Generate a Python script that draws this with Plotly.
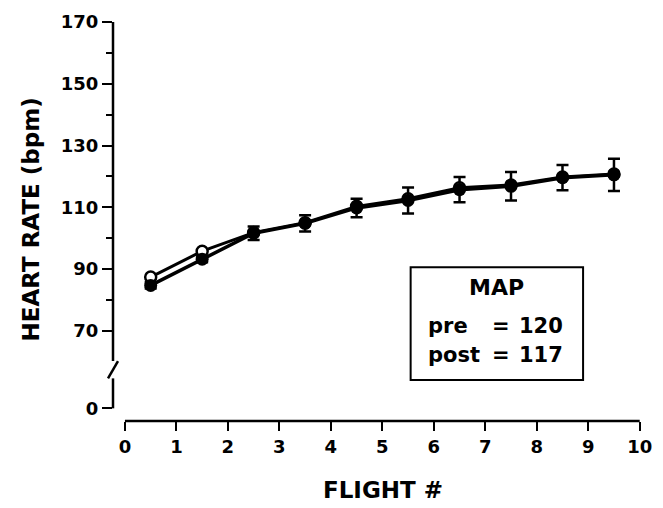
import plotly.graph_objects as go

flight = [0.5, 1.5, 2.5, 3.5, 4.5, 5.5, 6.5, 7.5, 8.5, 9.5]
hr_pre = [87.4, 95.8, 101.8, 105.0, 110.3, 112.8, 116.3, 117.2, 119.8, 120.8]
hr_post = [84.7, 93.2, 101.6, 104.8, 109.8, 112.2, 115.7, 116.8, 119.6, 120.5]
hr_post_err = [1.0, 1.0, 2.2, 2.6, 3.0, 4.2, 4.1, 4.6, 4.1, 5.2]

y_tickvals = [44.9, 70, 90, 110, 130, 150, 170]
y_ticktext = ["0", "70", "90", "110", "130", "150", "170"]
y_minor = [80, 100, 120, 140, 160]
x_tickvals = list(range(0, 11))

FONT = "DejaVu Sans"
BOLD = dict(family=FONT, color="black", weight="bold")

fig = go.Figure()
fig.add_trace(go.Scatter(
    x=flight, y=hr_pre, mode="lines+markers", name="pre",
    line=dict(color="black", width=3),
    marker=dict(symbol="circle", size=11, color="white", line=dict(color="black", width=2.5)),
))
fig.add_trace(go.Scatter(
    x=flight, y=hr_post, mode="lines+markers", name="post",
    line=dict(color="black", width=3.5),
    marker=dict(symbol="circle", size=13, color="black"),
    error_y=dict(type="data", array=hr_post_err, color="black", thickness=2.5, width=6),
))

shapes = [
    dict(type="line", xref="x", yref="paper", x0=0, x1=10, y0=0, y1=0,
         line=dict(color="black", width=2.5)),
    dict(type="line", xref="paper", yref="y", x0=0, x1=0, y0=60.2, y1=170,
         line=dict(color="black", width=2.5)),
    dict(type="line", xref="paper", yref="y", x0=0, x1=0, y0=44.9, y1=54.6,
         line=dict(color="black", width=2.5)),
    dict(type="line", xref="paper", yref="y", xsizemode="pixel", xanchor=0,
         x0=-5, x1=5, y0=54.6, y1=60.2, line=dict(color="black", width=2.5)),
    dict(type="rect", xref="x", yref="y", x0=5.55, x1=8.9, y0=54.1, y1=90.6,
         line=dict(color="black", width=2), fillcolor="white"),
]

annotations = [
    dict(text="HEART RATE (bpm)", xref="paper", yref="paper", x=-0.152, y=0.506,
         textangle=-90, showarrow=False, font=dict(size=23, **BOLD),
         xanchor="center", yanchor="middle"),
    dict(text="FLIGHT #", xref="paper", yref="paper", x=0.503, y=-0.172,
         showarrow=False, font=dict(size=23, **BOLD), xanchor="center", yanchor="middle"),
    dict(text="MAP", xref="x", yref="y", x=7.21, y=84.1, showarrow=False,
         font=dict(size=22, **BOLD), xanchor="center", yanchor="middle"),
    dict(text="pre", xref="x", yref="y", x=5.84, y=71.7, showarrow=False,
         font=dict(size=21, **BOLD), xanchor="left", yanchor="middle"),
    dict(text="post", xref="x", yref="y", x=5.84, y=62.2, showarrow=False,
         font=dict(size=21, **BOLD), xanchor="left", yanchor="middle"),
    dict(text="=", xref="x", yref="y", x=7.3, y=71.7, showarrow=False,
         font=dict(size=21, **BOLD), xanchor="center", yanchor="middle"),
    dict(text="=", xref="x", yref="y", x=7.3, y=62.2, showarrow=False,
         font=dict(size=21, **BOLD), xanchor="center", yanchor="middle"),
    dict(text="120", xref="x", yref="y", x=8.55, y=71.7, showarrow=False,
         font=dict(size=21, **BOLD), xanchor="right", yanchor="middle"),
    dict(text="117", xref="x", yref="y", x=8.55, y=62.2, showarrow=False,
         font=dict(size=21, **BOLD), xanchor="right", yanchor="middle"),
]

fig.update_layout(
    width=663, height=508,
    margin=dict(l=113, r=11, t=14, b=87),
    paper_bgcolor="white", plot_bgcolor="white",
    showlegend=False,
    shapes=shapes, annotations=annotations,
    xaxis=dict(
        range=[-0.232, 10.2], showgrid=False, zeroline=False, showline=False,
        tickvals=x_tickvals, ticks="outside", ticklen=9, tickwidth=2, tickcolor="black",
        tickfont=dict(size=18, **BOLD),
    ),
    yaxis=dict(
        range=[40.8, 170], showgrid=False, zeroline=False, showline=False,
        tickvals=y_tickvals, ticktext=y_ticktext,
        ticks="outside", ticklen=10, tickwidth=2, tickcolor="black",
        tickfont=dict(size=18, **BOLD),
        minor=dict(tickvals=y_minor, ticks="outside", ticklen=6, tickwidth=2, tickcolor="black"),
    ),
)

fig.write_html("out.html")
